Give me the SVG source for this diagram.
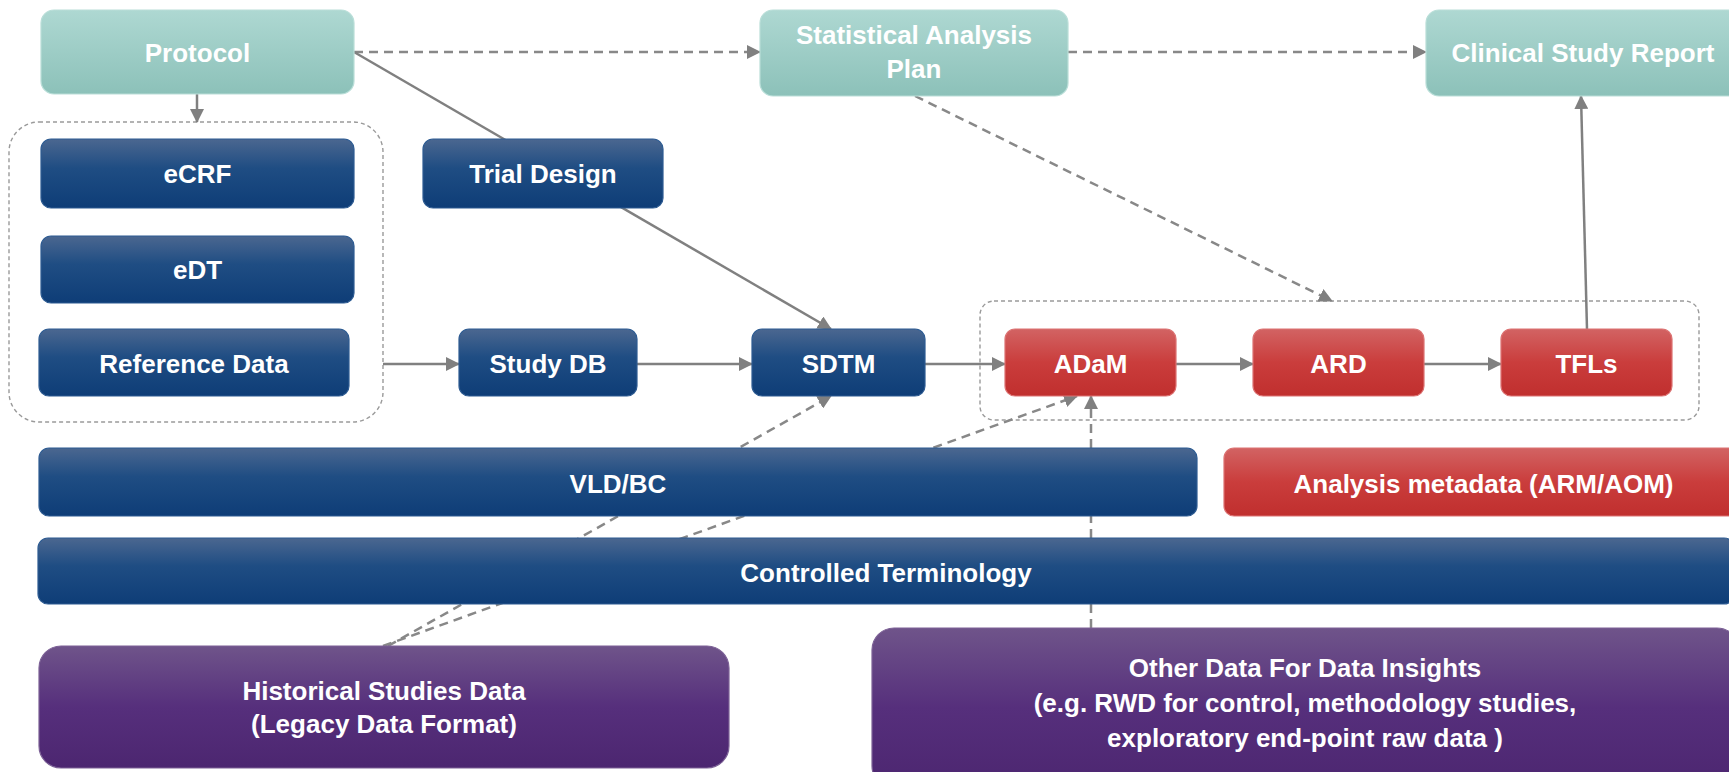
<svg xmlns="http://www.w3.org/2000/svg" width="1729" height="772" viewBox="0 0 1729 772">
  <defs>
    <linearGradient id="gTeal" x1="0" y1="0" x2="0" y2="1">
      <stop offset="0" stop-color="#aed8d2"/>
      <stop offset="1" stop-color="#8cc1b9"/>
    </linearGradient>
    <linearGradient id="gBlue" x1="0" y1="0" x2="0" y2="1">
      <stop offset="0" stop-color="#4b6790"/>
      <stop offset="0.42" stop-color="#1f4d83"/>
      <stop offset="1" stop-color="#0e3d77"/>
    </linearGradient>
    <linearGradient id="gRed" x1="0" y1="0" x2="0" y2="1">
      <stop offset="0" stop-color="#d26363"/>
      <stop offset="0.5" stop-color="#ca3d3c"/>
      <stop offset="1" stop-color="#c02f2e"/>
    </linearGradient>
    <linearGradient id="gPurple" x1="0" y1="0" x2="0" y2="1">
      <stop offset="0" stop-color="#6f548a"/>
      <stop offset="0.5" stop-color="#562f7c"/>
      <stop offset="1" stop-color="#4c2670"/>
    </linearGradient>
    <marker id="arrow" viewBox="0 0 14 14" refX="13" refY="7" markerWidth="14" markerHeight="14" markerUnits="userSpaceOnUse" orient="auto">
      <path d="M0,0 L14,7 L0,14 z" fill="#808080"/>
    </marker>
    <style>
      .teal { fill: url(#gTeal); stroke: #b9ded8; stroke-width: 1.2; }
      .blue { fill: url(#gBlue); stroke: #2d5b92; stroke-width: 1.2; }
      .red { fill: url(#gRed); stroke: #dc7272; stroke-width: 1.2; }
      .purple { fill: url(#gPurple); stroke: #7c6196; stroke-width: 1.2; }
      .group { fill: none; stroke: #9a9a9a; stroke-width: 1.4; stroke-dasharray: 4 3; }
      .lbl { font-family: "Liberation Sans", Arial, sans-serif; font-weight: bold; font-size: 26px; fill: #ffffff; text-anchor: middle; }
      .solid { fill: none; stroke: #808080; stroke-width: 2.5; }
      .dash { fill: none; stroke: #888888; stroke-width: 2.5; stroke-dasharray: 9 6; }
    </style>
  </defs>

  <rect width="1729" height="772" fill="#ffffff"/>

  <!-- dashed grouping frames -->
  <g id="group-sources">
    <rect class="group" x="9" y="122" width="374" height="300" rx="30"/>
  </g>
  <g id="group-analysis">
    <rect class="group" x="980" y="301" width="719" height="119" rx="14"/>
  </g>

  <!-- connectors -->
  <g id="connectors">
    <path class="dash" d="M354 52 H760" marker-end="url(#arrow)"/>
    <path class="dash" d="M1068 52 H1426" marker-end="url(#arrow)"/>
    <path class="solid" d="M197 94 V122" marker-end="url(#arrow)"/>
    <path class="solid" stroke-width="2" d="M354 52 L831 329" marker-end="url(#arrow)"/>
    <path class="solid" d="M383 364 H459" marker-end="url(#arrow)"/>
    <path class="solid" d="M637 364 H752" marker-end="url(#arrow)"/>
    <path class="solid" d="M925 364 H1005" marker-end="url(#arrow)"/>
    <path class="solid" d="M1176 364 H1253" marker-end="url(#arrow)"/>
    <path class="solid" d="M1424 364 H1501" marker-end="url(#arrow)"/>
    <path class="solid" stroke-width="2" d="M1587 329 L1581 96" marker-end="url(#arrow)"/>
    <path class="dash" d="M915 96 L1332 301" marker-end="url(#arrow)"/>
    <path class="dash" d="M388 646 L831 396" marker-end="url(#arrow)"/>
    <path class="dash" d="M383 646 L1077 396" marker-end="url(#arrow)"/>
    <path class="dash" d="M1091 628 V396" marker-end="url(#arrow)"/>
  </g>

  <!-- nodes -->
  <g id="protocol">
    <rect class="teal" x="41" y="10" width="313" height="84" rx="13"/>
    <text class="lbl" x="197.5" y="62">Protocol</text>
  </g>
  <g id="sap">
    <rect class="teal" x="760" y="10" width="308" height="86" rx="13"/>
    <text class="lbl" x="914" y="44">Statistical Analysis</text>
    <text class="lbl" x="914" y="78">Plan</text>
  </g>
  <g id="csr">
    <rect class="teal" x="1426" y="10" width="315" height="86" rx="13"/>
    <text class="lbl" x="1583" y="62">Clinical Study Report</text>
  </g>
  <g id="ecrf">
    <rect class="blue" x="41" y="139" width="313" height="69" rx="10"/>
    <text class="lbl" x="197.5" y="183">eCRF</text>
  </g>
  <g id="trial-design">
    <rect class="blue" x="423" y="139" width="240" height="69" rx="10"/>
    <text class="lbl" x="543" y="183">Trial Design</text>
  </g>
  <g id="edt">
    <rect class="blue" x="41" y="236" width="313" height="67" rx="10"/>
    <text class="lbl" x="197.5" y="279">eDT</text>
  </g>
  <g id="reference-data">
    <rect class="blue" x="39" y="329" width="310" height="67" rx="10"/>
    <text class="lbl" x="194" y="373">Reference Data</text>
  </g>
  <g id="study-db">
    <rect class="blue" x="459" y="329" width="178" height="67" rx="10"/>
    <text class="lbl" x="548" y="373">Study DB</text>
  </g>
  <g id="sdtm">
    <rect class="blue" x="752" y="329" width="173" height="67" rx="10"/>
    <text class="lbl" x="838.5" y="373">SDTM</text>
  </g>
  <g id="adam">
    <rect class="red" x="1005" y="329" width="171" height="67" rx="10"/>
    <text class="lbl" x="1090.5" y="373">ADaM</text>
  </g>
  <g id="ard">
    <rect class="red" x="1253" y="329" width="171" height="67" rx="10"/>
    <text class="lbl" x="1338.5" y="373">ARD</text>
  </g>
  <g id="tfls">
    <rect class="red" x="1501" y="329" width="171" height="67" rx="10"/>
    <text class="lbl" x="1586.5" y="373">TFLs</text>
  </g>
  <g id="vld-bc">
    <rect class="blue" x="39" y="448" width="1158" height="68" rx="10"/>
    <text class="lbl" x="618" y="493">VLD/BC</text>
  </g>
  <g id="analysis-metadata">
    <rect class="red" x="1224" y="448" width="519" height="68" rx="10"/>
    <text class="lbl" x="1483.5" y="493">Analysis metadata (ARM/AOM)</text>
  </g>
  <g id="controlled-terminology">
    <rect class="blue" x="38" y="538" width="1696" height="66" rx="10"/>
    <text class="lbl" x="886" y="582">Controlled Terminology</text>
  </g>
  <g id="historical-data">
    <rect class="purple" x="39" y="646" width="690" height="122" rx="22"/>
    <text class="lbl" x="384" y="700">Historical Studies Data</text>
    <text class="lbl" x="384" y="733">(Legacy Data Format)</text>
  </g>
  <g id="other-data">
    <rect class="purple" x="872" y="628" width="867" height="160" rx="22"/>
    <text class="lbl" x="1305" y="677">Other Data For Data Insights</text>
    <text class="lbl" x="1305" y="712">(e.g. RWD for control, methodology studies,</text>
    <text class="lbl" x="1305" y="747">exploratory end-point raw data )</text>
  </g>
</svg>
